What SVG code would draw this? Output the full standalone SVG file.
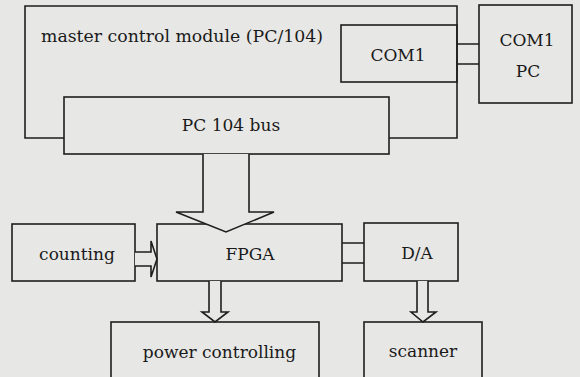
<svg xmlns="http://www.w3.org/2000/svg" width="580" height="377" viewBox="0 0 580 377">
<style>
.bx{fill:none;stroke:#1e1e1e;stroke-width:1.6}
.ar{fill:#e7e7e5;stroke:#1e1e1e;stroke-width:1.6;stroke-linejoin:miter}
.ln{fill:none;stroke:#1e1e1e;stroke-width:1.6}
text{font-family:"DejaVu Serif","Liberation Serif",serif;font-size:17px;fill:#1a1a1a}
.c{text-anchor:middle}
</style>
<rect width="580" height="377" fill="#e7e7e5"/>
<g id="master">
<path class="bx" d="M64 138 H25 V6 H457 V138 H389"/>
<text x="41" y="42" textLength="282" lengthAdjust="spacingAndGlyphs">master control module (PC/104)</text>
</g>
<g id="com1">
<rect class="bx" x="341" y="25" width="116" height="57"/>
<text class="c" x="398" y="61">COM1</text>
</g>
<g id="com1pc">
<rect class="bx" x="479" y="5" width="93" height="98"/>
<text class="c" x="527" y="46">COM1</text>
<text class="c" x="528" y="77">PC</text>
</g>
<g id="bus">
<rect class="bx" x="64" y="97" width="325" height="57"/>
<text class="c" x="231" y="131">PC 104 bus</text>
</g>
<g id="counting">
<rect class="bx" x="12" y="224" width="123" height="57"/>
<text class="c" x="77" y="260">counting</text>
</g>
<g id="fpga">
<rect class="bx" x="157" y="224" width="185" height="57"/>
<text class="c" x="250" y="260">FPGA</text>
</g>
<g id="da">
<rect class="bx" x="364" y="223" width="94" height="58"/>
<text class="c" x="417" y="259">D/A</text>
</g>
<g id="power">
<rect class="bx" x="111" y="322" width="208" height="70"/>
<text class="c" x="219.5" y="358">power controlling</text>
</g>
<g id="scanner">
<rect class="bx" x="364" y="322" width="118" height="70"/>
<text class="c" x="423" y="357">scanner</text>
</g>
<g id="connectors">
<path class="ln" d="M457 44 H479 M457 64 H479"/>
<path class="ln" d="M342 243 H364 M342 263 H364"/>
<path class="ar" d="M203 154 V212 H176 L226 232 L274 212 H249 V154"/>
<path class="ar" d="M135 252 H151 V241 L157 259 L151 277 V266 H135"/>
<path class="ar" d="M209 281 V312 H202 L215 322 L228 312 H221 V281"/>
<path class="ar" d="M417 281 V312 H411 L423 322 L436 312 H428 V281"/>
</g>
</svg>
